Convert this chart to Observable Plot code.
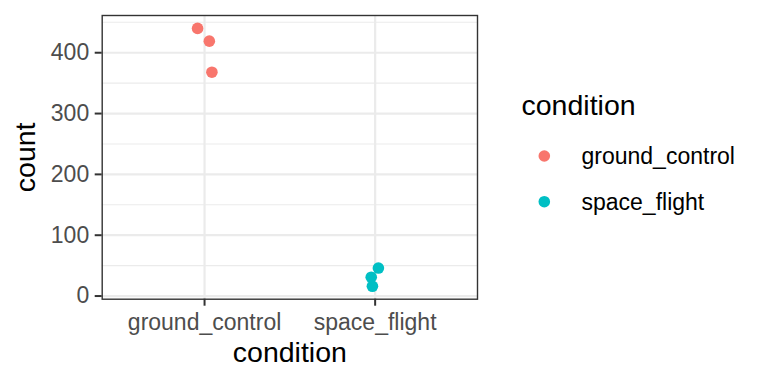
<!DOCTYPE html>
<html><head><meta charset="utf-8">
<script src="https://cdn.jsdelivr.net/npm/d3@7"></script>
<script src="https://cdn.jsdelivr.net/npm/@observablehq/plot@0.6"></script>
<style>
body{margin:0;background:#fff;font-family:"Liberation Sans",Arial,sans-serif}
#wrap{position:relative;width:768px;height:384px}
#legend{position:absolute;left:0;top:0;pointer-events:none}
</style></head><body><div id="wrap"></div>
<script>
const categories = ["ground_control", "space_flight"];
const groundCount = [440, 419, 368];
const spaceCount = [46, 31, 16];
const groundJitter = [-0.041, 0.028, 0.043];
const spaceJitter = [0.019, -0.023, -0.016];
const yTicks = [0, 100, 200, 300, 400];
const yMinor = [50, 150, 250, 350, 450];
const colors = ["#F8766D", "#00BFC4"];
const xTitle = "condition";
const yTitle = "count";
const legendTitle = "condition";

const data = [
  ...groundCount.map((c, i) => ({condition: categories[0], pos: 1 + groundJitter[i], count: c})),
  ...spaceCount.map((c, i) => ({condition: categories[1], pos: 2 + spaceJitter[i], count: c}))
];
const all = data.map(d => d.count);
const lo = d3.min(all), hi = d3.max(all), pad = (hi - lo) * 0.05;
const font = '"Liberation Sans", Arial, sans-serif';
const tickFont = 23, titleFont = 28.5;

const plot = Plot.plot({
  width: 768, height: 384,
  marginLeft: 101.7, marginRight: 291, marginTop: 15, marginBottom: 85.3,
  style: {fontFamily: font, background: "white"},
  x: {domain: [0.4, 2.6]},
  y: {domain: [lo - pad, hi + pad]},
  color: {domain: categories, range: colors},
  marks: [
    Plot.ruleY(yMinor, {stroke: "#EBEBEB", strokeWidth: 1.1}),
    Plot.ruleY(yTicks, {stroke: "#EBEBEB", strokeWidth: 2.2}),
    Plot.ruleX([1, 2], {stroke: "#EBEBEB", strokeWidth: 2.2}),
    Plot.dot(data, {x: "pos", y: "count", fill: "condition", r: 5.8}),
    Plot.frame({stroke: "#333333", strokeWidth: 1.4}),
    Plot.axisY(yTicks, {tickSize: 7, color: "#333333", strokeWidth: 2, tickFormat: () => "", label: null}),
    Plot.axisY(yTicks, {tickSize: 0, tickPadding: 13, fontSize: tickFont, color: "#4D4D4D", label: null}),
    Plot.axisX([1, 2], {tickSize: 7, color: "#333333", strokeWidth: 2, tickFormat: () => "", label: null}),
    Plot.axisX([1, 2], {tickSize: 0, tickPadding: 14, fontSize: tickFont, color: "#4D4D4D", tickFormat: d => categories[d - 1], label: null}),
    Plot.text([yTitle], {text: d => d, frameAnchor: "left", textAnchor: "middle", rotate: -90, dx: -76, fontSize: titleFont, fill: "black"}),
    Plot.text([xTitle], {text: d => d, frameAnchor: "bottom", textAnchor: "middle", dy: 63, fontSize: titleFont, fill: "black"})
  ]
});
const wrap = document.getElementById("wrap");
wrap.appendChild(plot);

const color = plot.scale("color");
const svg = d3.select(wrap).append("svg").attr("id", "legend")
  .attr("width", 768).attr("height", 384)
  .style("font-family", font);
svg.append("text").attr("x", 521.5).attr("y", 114.5)
  .attr("font-size", titleFont).attr("fill", "black").text(legendTitle);
categories.forEach((c, i) => {
  const cy = 156 + i * 45.7;
  svg.append("circle").attr("cx", 544.3).attr("cy", cy).attr("r", 5.8).attr("fill", color.apply(c));
  svg.append("text").attr("x", 581.5).attr("y", cy + 8)
    .attr("font-size", tickFont).attr("fill", "black").text(c);
});
</script></body></html>
